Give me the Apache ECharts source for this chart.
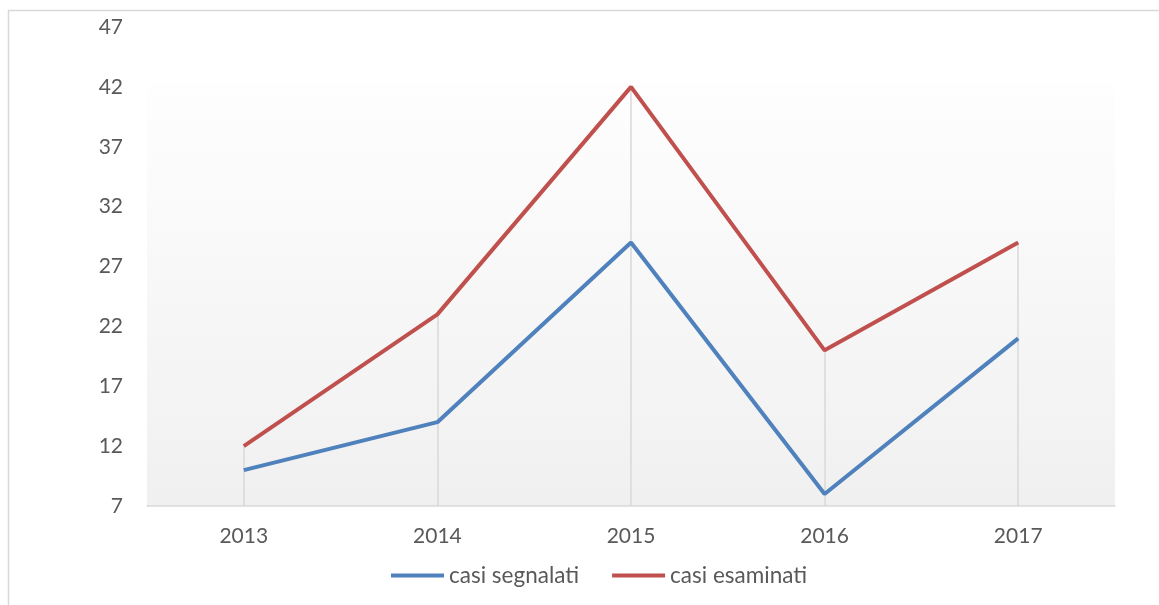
<!DOCTYPE html>
<html><head><meta charset="utf-8">
<script src="https://cdn.jsdelivr.net/npm/echarts@6/dist/echarts.min.js"></script>
<style>html,body{margin:0;padding:0;background:#fff}#c{width:1159px;height:605px}</style>
</head><body><div id="c"></div>
<script>
const years = ['2013','2014','2015','2016','2017'];
const segnalati = [10, 14, 29, 8, 21];
const esaminati = [12, 23, 42, 20, 29];
const yTicks = [7, 12, 17, 22, 27, 32, 37, 42, 47];
const names = ['casi segnalati', 'casi esaminati'];
const shadeTop = 42.3;

const font = 'Lato';
const txt = '#595959';
const chart = echarts.init(document.getElementById('c'));
const yMin = yTicks[0], yMax = yTicks[yTicks.length-1];
const drops = years.map((y, i) => [
  {coord: [i, yMin]},
  {coord: [i, Math.max(segnalati[i], esaminati[i])]}
]);
chart.setOption({
  animation: false,
  graphic: [{type:'rect', shape:{x:8.5,y:10.5,width:1300,height:800}, style:{fill:'none', stroke:'#d9d9d9', lineWidth:1.5}, z:-10}],
  grid: {left:147, right:44, top:27, bottom:99},
  legend: {
    bottom: 13, left: 386, itemWidth: 53, itemHeight: 4, itemGap: 33,
    textStyle: {color: txt, fontFamily: font, fontSize: 22.5},
    data: names.map(n => ({name:n, icon:'rect'}))
  },
  xAxis: {
    type: 'category', data: years, boundaryGap: true,
    axisLine: {lineStyle: {color:'#d9d9d9', width:1.5}},
    axisTick: {show:false},
    axisLabel: {color: txt, fontFamily: font, fontSize: 21, margin: 20},
    splitLine: {show:false}
  },
  yAxis: {
    type: 'value', min: yMin, max: yMax,
    axisLine: {show:false}, axisTick: {show:false}, splitLine: {show:false},
    axisLabel: {color: txt, fontFamily: font, fontSize: 21, margin: 24, customValues: yTicks}
  },
  series: [
    {
      name: names[0], type: 'line', data: segnalati, symbol: 'none',
      lineStyle: {color:'#4f81bd', width:4}, itemStyle: {color:'#4f81bd'}, z: 3,
      markArea: {silent:true, z:-1, itemStyle:{color:{type:'linear',x:0,y:0,x2:0,y2:1,colorStops:[{offset:0,color:'#fefefe'},{offset:1,color:'#f0f0f0'}]}},
        data: [[{yAxis: yMin}, {yAxis: shadeTop}]]},
      markLine: {silent:true, symbol:'none', label:{show:false}, lineStyle:{color:'#d9d9d9', width:1.5, type:'solid'}, data: drops, z:1}
    },
    {
      name: names[1], type: 'line', data: esaminati, symbol: 'none',
      lineStyle: {color:'#c0504d', width:4}, itemStyle: {color:'#c0504d'}, z: 3
    }
  ]
});
</script></body></html>
